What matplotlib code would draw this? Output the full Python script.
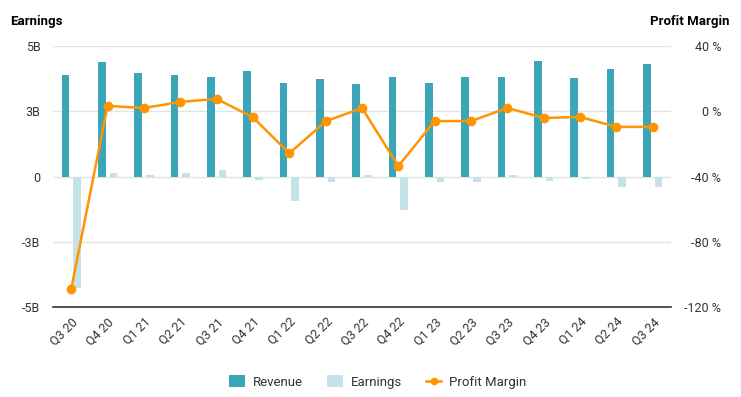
import numpy as np
import matplotlib
matplotlib.use("Agg")
import matplotlib.pyplot as plt

plt.rcParams['font.family'] = ['Roboto', 'DejaVu Sans']

quarters = ['Q3 20', 'Q4 20', 'Q1 21', 'Q2 21', 'Q3 21', 'Q4 21', 'Q1 22', 'Q2 22', 'Q3 22',
            'Q4 22', 'Q1 23', 'Q2 23', 'Q3 23', 'Q4 23', 'Q1 24', 'Q2 24', 'Q3 24']
revenue = [3.90, 4.40, 3.95, 3.87, 3.83, 4.06, 3.60, 3.72, 3.53,
           3.83, 3.60, 3.83, 3.80, 4.41, 3.76, 4.10, 4.30]          # billions
earnings = [-4.28, 0.13, 0.05, 0.14, 0.24, -0.12, -0.95, -0.20, 0.06,
            -1.27, -0.20, -0.20, 0.07, -0.18, -0.10, -0.40, -0.40]  # billions
margin = [-109.1, 3.3, 2.0, 5.7, 7.6, -3.7, -25.8, -6.2, 2.0,
          -33.6, -6.0, -6.0, 2.0, -4.1, -3.5, -9.6, -9.6]          # percent

left_ticks = [-5, -2.5, 0, 2.5, 5]
left_labels = ['-5B', '-3B', '0', '3B', '5B']
right_ticks = [-120, -80, -40, 0, 40]
right_labels = ['-120 %', '-80 %', '-40 %', '0 %', '40 %']

c_rev = '#3ca6b9'
c_earn = '#c4e3e8'
c_margin = '#ff9500'
c_text = '#333333'

W, H = 741, 397
fig = plt.figure(figsize=(W / 100, H / 100), dpi=100)
ax = fig.add_axes([53 / W, 1 - 307 / H, (671 - 53) / W, (307 - 46) / H])

x = np.arange(len(quarters))
bw = 0.21
ax.bar(x - 0.16, revenue, width=bw, color=c_rev, label='Revenue', zorder=2)
ax.bar(x + 0.16, earnings, width=bw, color=c_earn, label='Earnings', zorder=2)

ax.set_xlim(-0.5, len(quarters) - 0.5)
ax.set_ylim(-5, 5)
ax.set_yticks(left_ticks)
ax.set_yticklabels(left_labels)
ax.set_xticks(x)
ax.set_xticklabels(quarters, rotation=45, ha='right', rotation_mode='anchor')
ax.grid(axis='y', color='#e3e3e3', linewidth=1, zorder=0)
ax.tick_params(axis='both', length=0, labelsize=9, colors=c_text)
ax.tick_params(axis='y', pad=9)
ax.tick_params(axis='x', pad=6)
for s in ['top', 'right', 'left']:
    ax.spines[s].set_visible(False)
ax.spines['bottom'].set_color('#333333')
ax.spines['bottom'].set_linewidth(1.2)

ax2 = ax.twinx()
ax2.plot(x, margin, color=c_margin, linewidth=1.8, marker='o', markersize=6,
         label='Profit Margin', zorder=3)
ax2.set_ylim(-120, 40)
ax2.set_yticks(right_ticks)
ax2.set_yticklabels(right_labels)
ax2.tick_params(axis='y', length=0, labelsize=9, colors=c_text, pad=36)
for lbl in ax2.get_yticklabels():
    lbl.set_horizontalalignment('right')
for s in ax2.spines.values():
    s.set_visible(False)

fig.text(10 / W, 1 - 22 / H, 'Earnings', fontsize=9.5, fontweight='bold', va='center', ha='left')
fig.text(729 / W, 1 - 22 / H, 'Profit Margin', fontsize=9.5, fontweight='bold', va='center', ha='right')

h1, l1 = ax.get_legend_handles_labels()
h2, l2 = ax2.get_legend_handles_labels()
fig.legend(h1 + h2, l1 + l2, loc='center', bbox_to_anchor=(378 / W, 1 - 382 / H), ncol=3,
           frameon=False, fontsize=9.5, handlelength=1.2, handleheight=1.0, columnspacing=1.8,
           handletextpad=0.6, markerscale=0.75, labelcolor=c_text)

fig.savefig('out.png', dpi=100)
